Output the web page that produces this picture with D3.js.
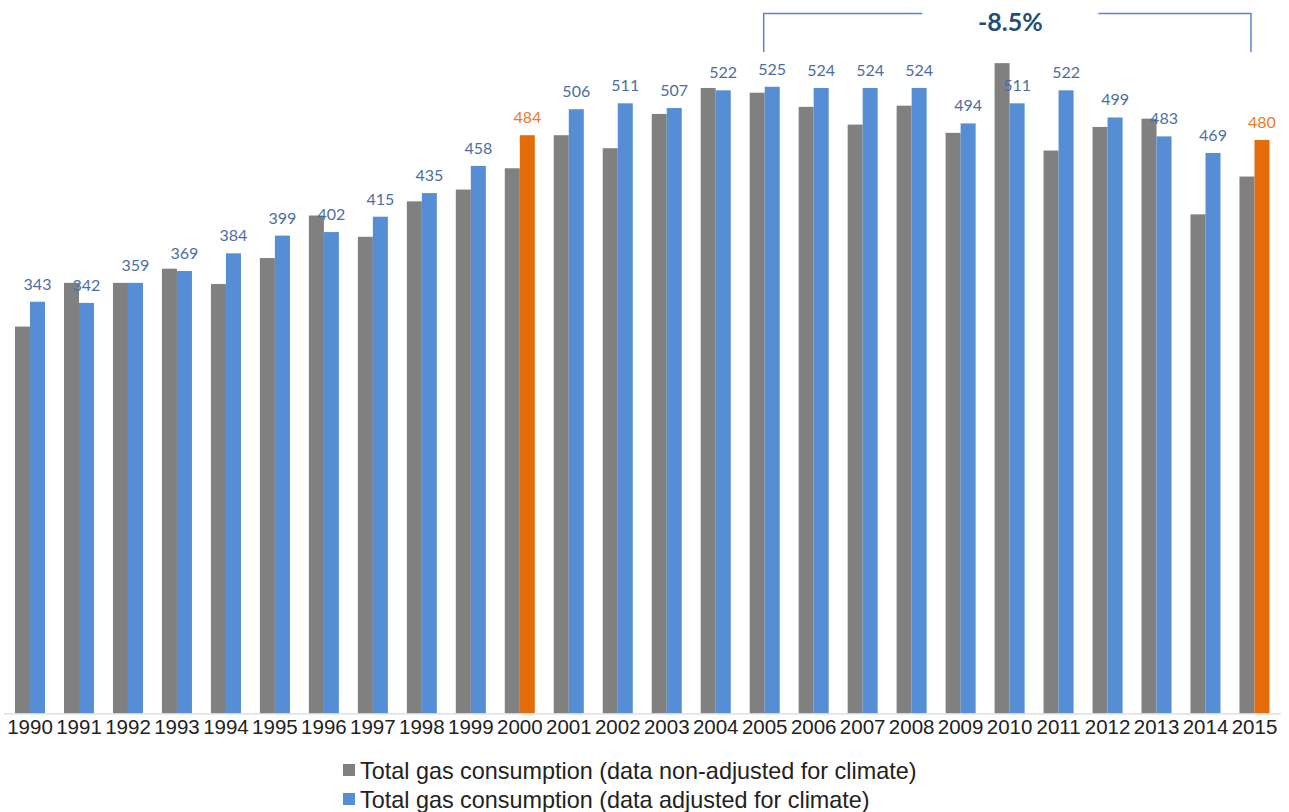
<!DOCTYPE html>
<html>
<head>
<meta charset="utf-8">
<script src="https://cdn.jsdelivr.net/npm/d3@7/dist/d3.min.js"></script>
<style>
  html, body { margin: 0; padding: 0; background: #fff; }
  svg { display: block; }
</style>
</head>
<body>
<svg id="chart" width="1289" height="812"></svg>
<script>
// Annual gas consumption, 1990-2015
const years = ["1990","1991","1992","1993","1994","1995","1996","1997","1998","1999",
               "2000","2001","2002","2003","2004","2005","2006","2007","2008","2009",
               "2010","2011","2012","2013","2014","2015"];
const nonAdjusted = [322, 359, 359, 371, 358, 380, 416, 398, 428, 438,
                     456, 484, 473, 502, 524, 520, 508, 493, 509, 486,
                     545, 471, 491, 498, 417, 449];
const adjusted = [343, 342, 359, 369, 384, 399, 402, 415, 435, 458,
                  484, 506, 511, 507, 522, 525, 524, 524, 524, 494,
                  511, 522, 499, 483, 469, 480];
const highlightYears = ["2000", "2015"];
const seriesNames = ["Total gas consumption (data non-adjusted for climate)",
                     "Total gas consumption (data adjusted for climate)"];
const changeLabel = "-8.5%";
const changeFrom = "2005", changeTo = "2015";

const colors = { gray: "#808080", blue: "#558ed5", orange: "#e46c0a",
                 label: "#4a6ea3", labelOrange: "#ec7a26", bracket: "#5a86c4", pct: "#1f4e79" };

const svg = d3.select("#chart");

const x = d3.scaleBand().domain(years).range([5.5, 1279]).paddingInner(0.387).paddingOuter(0.194);
const xs = d3.scaleBand().domain([0, 1]).range([0, x.bandwidth()]);
const y = d3.scaleLinear().domain([-5.5, 590]).range([713.4, 10]);
const base = y.range()[0];

// bars: non-adjusted series
svg.append("g").selectAll("rect").data(years).join("rect")
  .attr("x", d => x(d) + xs(0))
  .attr("width", xs.bandwidth())
  .attr("y", (d, i) => y(nonAdjusted[i]))
  .attr("height", (d, i) => base - y(nonAdjusted[i]))
  .attr("fill", colors.gray);

// bars: climate-adjusted series, reference years in orange
svg.append("g").selectAll("rect").data(years).join("rect")
  .attr("x", d => x(d) + xs(1))
  .attr("width", xs.bandwidth())
  .attr("y", (d, i) => y(adjusted[i]))
  .attr("height", (d, i) => base - y(adjusted[i]))
  .attr("fill", d => highlightYears.includes(d) ? colors.orange : colors.blue);

// value labels above adjusted bars
svg.append("g").selectAll("text").data(years).join("text")
  .attr("x", d => x(d) + xs(1) + xs.bandwidth() / 2)
  .attr("y", (d, i) => y(adjusted[i]) - 12)
  .attr("text-anchor", "middle")
  .attr("font-family", "Lato, 'Open Sans', sans-serif")
  .attr("font-size", 16)
  .attr("fill", d => highlightYears.includes(d) ? colors.labelOrange : colors.label)
  .text((d, i) => adjusted[i]);

// x axis
const xAxis = svg.append("g").attr("transform", `translate(0,${base})`)
  .call(d3.axisBottom(x).tickSize(0).tickPadding(22));
xAxis.select(".domain").attr("stroke", "#d9d9d9").attr("stroke-width", 1.2)
  .attr("d", `M4,0.5H1281`);
xAxis.selectAll("text")
  .attr("font-family", "'Liberation Sans', Arial, sans-serif")
  .attr("font-size", 20.5)
  .attr("fill", "#222")
  .attr("dy", -1);

// change bracket 2005 -> 2015
const xL = x(changeFrom) + x.bandwidth() / 2 - 1;
const xR = x(changeTo) + x.bandwidth() / 2 - 3.5;
const xMid = (xL + xR) / 2 + 3;
const yTop = 13.5, yBot = 52;
const gap = 88;
const br = svg.append("g").attr("fill", "none").attr("stroke", colors.bracket).attr("stroke-width", 1.5);
br.append("path").attr("d", `M${xL},${yBot}V${yTop}H${xMid - gap}`);
br.append("path").attr("d", `M${xMid + gap},${yTop}H${xR}V${yBot}`);
svg.append("text")
  .attr("x", xMid).attr("y", 31)
  .attr("text-anchor", "middle")
  .attr("font-family", "Lato, 'Open Sans', sans-serif")
  .attr("font-weight", 700)
  .attr("font-size", 25)
  .attr("fill", colors.pct)
  .text(changeLabel);

// legend
const legend = svg.append("g").attr("transform", "translate(343,0)");
const legendColors = [colors.gray, colors.blue];
const legendY = [779, 808];
seriesNames.forEach((name, i) => {
  legend.append("rect").attr("x", 0).attr("y", legendY[i] - 15).attr("width", 12).attr("height", 12)
    .attr("fill", legendColors[i]);
  legend.append("text").attr("x", 17).attr("y", legendY[i])
    .attr("font-family", "'Liberation Sans', Arial, sans-serif")
    .attr("font-size", 23.4)
    .attr("fill", "#222")
    .text(name);
});
</script>
</body>
</html>
